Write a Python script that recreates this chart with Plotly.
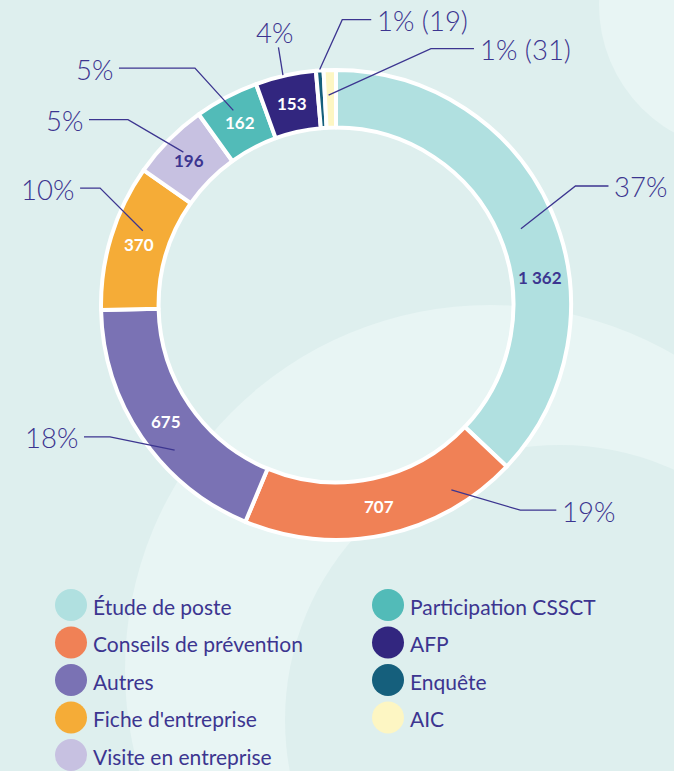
import math
import plotly.graph_objects as go

# ---------------- data ----------------
CATEGORIES = ["Étude de poste", "Conseils de prévention", "Autres", "Fiche d'entreprise",
              "Visite en entreprise", "Participation CSSCT", "AFP", "Enquête", "AIC"]
VALUES = [1362, 707, 675, 370, 196, 162, 153, 19, 31]
PCT_LABELS = [37, 19, 18, 10, 5, 5, 4, 1, 1]

# ---------------- style ----------------
COLORS = ["#b0e0e0", "#f08156", "#7a72b4", "#f5ac37", "#c7c1e1",
          "#52bbb8", "#32267f", "#155f7c", "#fdf6c3"]
DARK = "#3c3590"
INSIDE_TEXT_COLORS = [DARK, "white", "white", "white", DARK, "white", "white", DARK, DARK]
BG = "#deefee"
BG_LIGHT = "#e8f5f4"

W, H = 674, 771
CX, CY, R = 336, 305, 235
HOLE = 0.755
RING_MID = R * (1 + HOLE) / 2

# label placement (layout tweaks, degrees / pixels)
LBL_NUDGE = [0, -35.6, 7, 7.3, -8.2, -15.2, -0.2, 11.8, 30.5]
LBL_RADIUS = [301, 304, 288, 285, 312, 324, 280, 288, 293]
LBL_HOOK = [37, 40, 30, 24, 43, 80, 0, 33, 47]
START_R = [200, 218, 217, 207, 216, 220, 236, 236, 210]
START_NUDGE = [0.9, -20, -7.7, 4.1, 0.4, 0, -0.6, 0, -0.5]
VAL_NUDGE = [15.5, 0, 0, 0, 0, 0, 0, 0, 0]

FONT = "Lato"


def px(x):
    return x / W


def py(y):
    return 1 - y / H


def pt(r, ang):
    a = math.radians(ang)
    return CX + r * math.sin(a), CY - r * math.cos(a)


total = sum(VALUES)
mids = []
acc = 0
for v in VALUES:
    mids.append((acc + v / 2) / total * 360)
    acc += v

fig = go.Figure()
fig.add_trace(go.Pie(
    labels=CATEGORIES, values=VALUES, sort=False, direction="clockwise", rotation=0,
    hole=HOLE, textinfo="none", showlegend=False,
    marker=dict(colors=COLORS, line=dict(color="white", width=4)),
    domain=dict(x=[px(CX - R), px(CX + R)], y=[py(CY + R), py(CY - R)]),
))

shapes = []
annotations = []


def circle(cx, cy, r, color, layer="below"):
    return dict(type="circle", xref="paper", yref="paper",
                x0=px(cx - r), x1=px(cx + r), y0=py(cy + r), y1=py(cy - r),
                fillcolor=color, line=dict(width=0), layer=layer)


# background decorative circles
shapes.append(circle(490, 670, 365, BG_LIGHT))
shapes.append(circle(560, 720, 275, BG))
shapes.append(circle(745, 5, 146, BG_LIGHT))

for i, (cat, v) in enumerate(zip(CATEGORIES, VALUES)):
    share = v / total
    inside = share > 0.02
    # inside value label
    if inside:
        vx, vy = pt(RING_MID, mids[i] + VAL_NUDGE[i])
        annotations.append(dict(
            x=px(vx), y=py(vy), xref="paper", yref="paper", showarrow=False,
            text=f"{v:,}".replace(",", " "), xanchor="center", yanchor="middle",
            font=dict(family=FONT, size=17, color=INSIDE_TEXT_COLORS[i], weight=700)))
    # outside percentage label
    txt = f"{PCT_LABELS[i]}%" if inside else f"{PCT_LABELS[i]}% ({v})"
    phi = mids[i] + LBL_NUDGE[i]
    sx, sy = pt(START_R[i], mids[i] + START_NUDGE[i])
    tx, ty = pt(LBL_RADIUS[i], phi)
    if LBL_HOOK[i] == 0:
        ex, ey = pt(LBL_RADIUS[i] - 16, phi)
        path = f"M {px(sx)},{py(sy)} L {px(ex)},{py(ey)}"
        anchor = "center"
    else:
        right = math.sin(math.radians(phi)) > 0
        sgn = 1 if right else -1
        endx = tx - sgn * 4
        elbx = tx - sgn * LBL_HOOK[i]
        path = f"M {px(sx)},{py(sy)} L {px(elbx)},{py(ty)} L {px(endx)},{py(ty)}"
        anchor = "left" if right else "right"
    shapes.append(dict(type="path", xref="paper", yref="paper", path=path,
                       line=dict(color=DARK, width=1.3), layer="above"))
    annotations.append(dict(
        x=px(tx), y=py(ty), xref="paper", yref="paper", showarrow=False,
        text=txt, xanchor=anchor, yanchor="middle", yshift=-1,
        font=dict(family=FONT, size=27.5, color=DARK, weight=300)))

# custom legend
LEG_COL_X = [71, 388]
LEG_ROW_Y0 = 605
LEG_ROW_DY = 37.5
LEG_PER_COL = 5
for i, cat in enumerate(CATEGORIES):
    col = i // LEG_PER_COL
    row = i % LEG_PER_COL
    cx = LEG_COL_X[col]
    cy = LEG_ROW_Y0 + row * LEG_ROW_DY
    shapes.append(circle(cx, cy, 16, COLORS[i], layer="above"))
    annotations.append(dict(
        x=px(cx + 20), y=py(cy + 1), xref="paper", yref="paper", showarrow=False,
        text=cat, xanchor="left", yanchor="middle",
        font=dict(family=FONT, size=21, color=DARK, weight=400)))

fig.update_layout(
    width=W, height=H, autosize=False,
    margin=dict(l=0, r=0, t=0, b=0),
    paper_bgcolor=BG, plot_bgcolor=BG,
    showlegend=False,
    shapes=shapes, annotations=annotations,
)

fig.write_html("out.html",
               config={"displayModeBar": False},
               post_script="document.body.style.margin='0';"
                           "document.body.style.overflow='hidden';")
